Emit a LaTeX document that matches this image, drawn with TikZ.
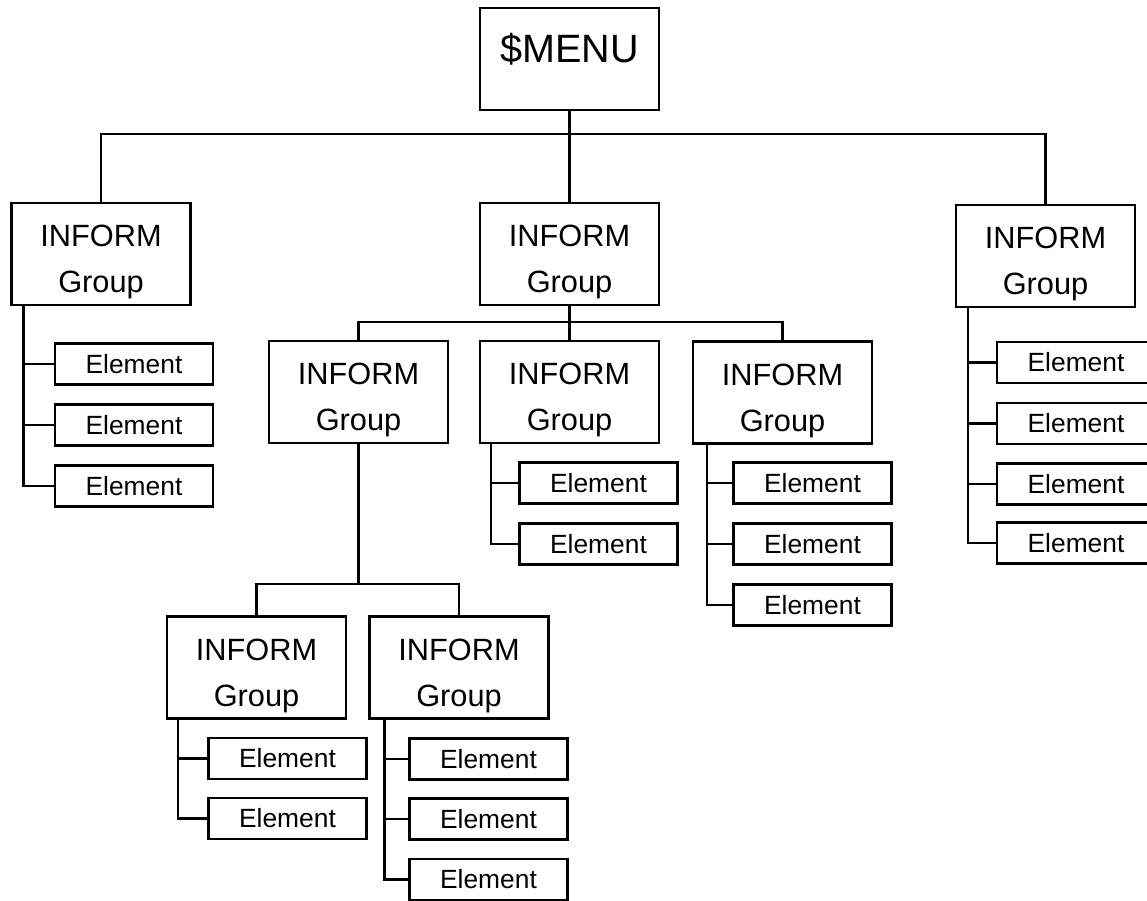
\documentclass[tikz,border=0pt]{standalone}
\usepackage{fontspec}
\setmainfont{Liberation Sans}
\usetikzlibrary{calc}
\tikzset{
  grp/.style={draw, minimum width=3.58cm, minimum height=2.04cm, inner sep=0pt,
    align=center, font=\fontsize{17.5}{26}\selectfont, text height=44pt, text depth=0pt},
  menubox/.style={draw, minimum width=3.58cm, minimum height=2.04cm, inner sep=0pt,
    font=\fontsize{22.5}{27}\selectfont, text depth=13pt},
  elem/.style={draw, minimum width=3.16cm, minimum height=0.82cm, inner sep=0pt,
    font=\fontsize{15}{18}\selectfont}
}
\begin{document}
\begin{tikzpicture}[x=0.02cm, y=-0.02cm, line width=1.4pt]
\clip (0,0) rectangle (1147,901);
% Menu and first level
\node[menubox] (menu) at (569.5,59) {\$MENU};
\node[grp] (g1) at (101,254) {INFORM\\Group};
\node[grp] (g2) at (569.5,254) {INFORM\\Group};
\node[grp] (g3) at (1045.5,256) {INFORM\\Group};
\coordinate (bar0) at (569.5,134);
\draw (menu.south) -- (g2.north);
\draw (g1.north) |- (bar0) -| (g3.north);

% Second level
\node[grp] (g21) at (358.5,392) {INFORM\\Group};
\node[grp] (g22) at (569.5,392) {INFORM\\Group};
\node[grp] (g23) at (782.5,392.5) {INFORM\\Group};
\coordinate (bar1) at (569.5,322);
\draw (g2.south) -- (g22.north);
\draw (g21.north) |- (bar1) -| (g23.north);

% Third level
\node[grp] (g211) at (256.5,667.5) {INFORM\\Group};
\node[grp] (g212) at (459,667.5) {INFORM\\Group};
\coordinate (bar2) at (358.5,584);
\draw (g21.south) -- (bar2);
\draw (g211.north) |- (bar2) -| (g212.north);

% Elements
\foreach \n/\y in {1/364, 2/425, 3/486}
{
  \node[elem] (g1e\n) at (134,\y) {Element};
  \draw ($(g1.south west)+(13,0)$) |- (g1e\n.west);
}
\foreach \n/\y in {1/362.5, 2/423.5, 3/484, 4/543}
{
  \node[elem] (g3e\n) at (1076,\y) {Element};
  \draw ($(g3.south west)+(13,0)$) |- (g3e\n.west);
}
\foreach \n/\y in {1/483, 2/544}
{
  \node[elem] (g22e\n) at (598.5,\y) {Element};
  \draw ($(g22.south west)+(12,0)$) |- (g22e\n.west);
}
\foreach \n/\y in {1/483, 2/544, 3/605}
{
  \node[elem] (g23e\n) at (812.5,\y) {Element};
  \draw ($(g23.south west)+(15,0)$) |- (g23e\n.west);
}
\foreach \n/\y in {1/758.5, 2/818.5}
{
  \node[elem] (g211e\n) at (287.5,\y) {Element};
  \draw ($(g211.south west)+(12,0)$) |- (g211e\n.west);
}
\foreach \n/\y in {1/759, 2/819, 3/879.5}
{
  \node[elem] (g212e\n) at (488.5,\y) {Element};
  \draw ($(g212.south west)+(16,0)$) |- (g212e\n.west);
}
\end{tikzpicture}
\end{document}
